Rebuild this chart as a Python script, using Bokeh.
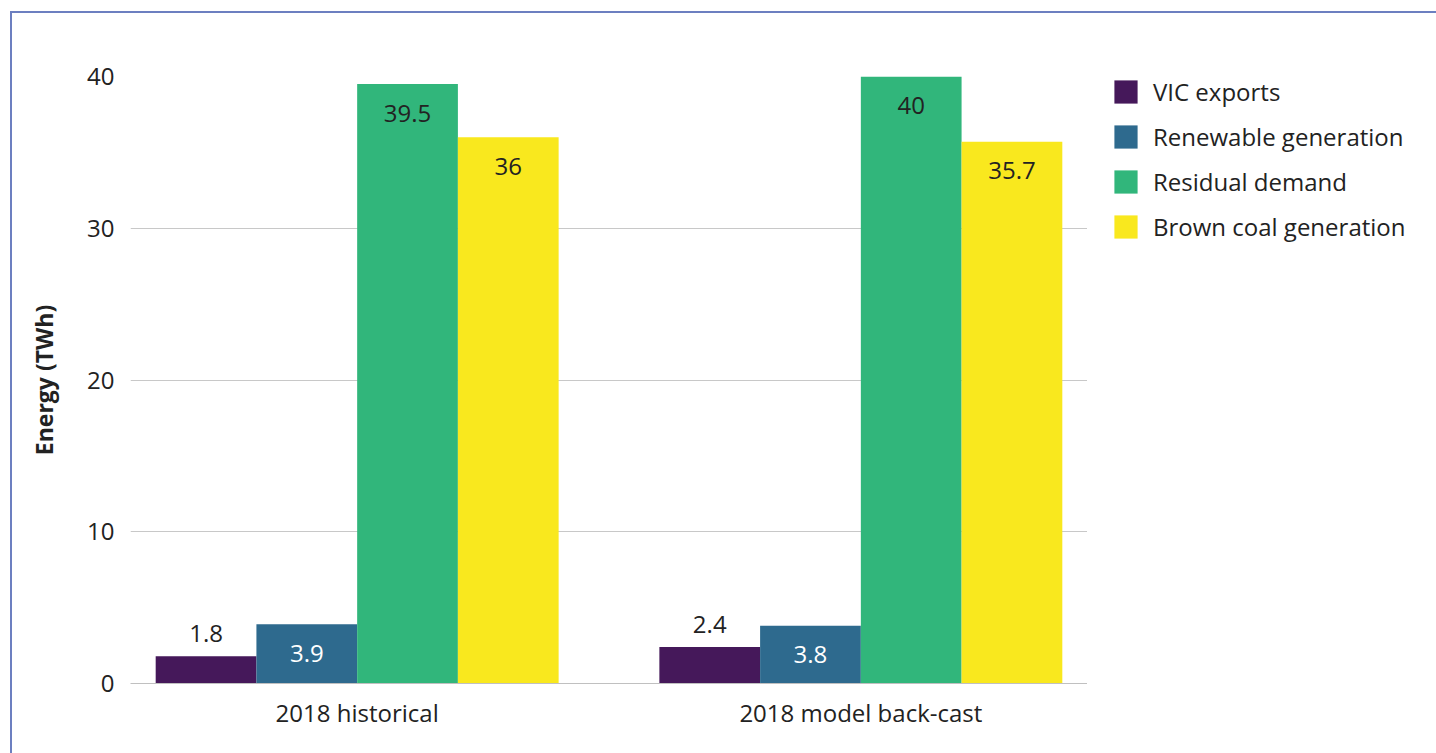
from bokeh.plotting import figure
from bokeh.layouts import row
from bokeh.models import (ColumnDataSource, Range1d, LabelSet, Legend, LegendItem,
                          FixedTicker, FactorRange)
from bokeh.transform import dodge
from bokeh.core.properties import value
from bokeh.embed import file_html
from bokeh.resources import INLINE

categories = ["2018 historical", "2018 model back-cast"]
series_names = ["VIC exports", "Renewable generation", "Residual demand", "Brown coal generation"]
vic_exports = [1.8, 2.4]
renewable_generation = [3.9, 3.8]
residual_demand = [39.5, 40.0]
brown_coal_generation = [36.0, 35.7]
y_ticks = [0, 10, 20, 30, 40]

series_values = [vic_exports, renewable_generation, residual_demand, brown_coal_generation]
colors = ["#45185a", "#2e6a8e", "#31b67b", "#f9e81e"]
label_colors = ["#222222", "#ffffff", "#222222", "#222222"]
offsets = [-0.3, -0.1, 0.1, 0.3]
FONT = "Open Sans"
FS = "24px"
TEXT = "#222222"

x_range = FactorRange(factors=categories, range_padding=-0.05, range_padding_units="absolute")
p = figure(x_range=x_range, y_range=Range1d(0, 40), width=1075, height=740,
           output_backend="svg", toolbar_location=None,
           min_border_left=118, min_border_right=0, min_border_top=63, min_border_bottom=70)
p.outline_line_color = None
p.background_fill_color = "white"
p.border_fill_color = "white"

src = ColumnDataSource(dict(cat=categories,
                            **{f"s{i}": v for i, v in enumerate(series_values)}))

for i, name in enumerate(series_names):
    p.vbar(x=dodge("cat", offsets[i], range=p.x_range), top=f"s{i}", width=0.2,
           source=src, fill_color=colors[i], line_color=None)
    vals = series_values[i]
    above = [v < 3 for v in vals]
    for j, cat in enumerate(categories):
        s = ColumnDataSource(dict(x=[cat], y=[vals[j]], t=["%g" % vals[j]]))
        lab = LabelSet(x=dodge("x", offsets[i], range=p.x_range), y="y", text="t", source=s,
                       y_offset=(23 if above[j] else -29),
                       text_align="center", text_baseline="middle",
                       text_font=value(FONT), text_font_size=FS,
                       text_color=(TEXT if above[j] else label_colors[i]))
        p.add_layout(lab)

p.yaxis.ticker = FixedTicker(ticks=y_ticks)
p.ygrid.grid_line_color = "#c8c8c8"
p.xgrid.grid_line_color = None
p.yaxis.axis_line_color = None
p.yaxis.major_tick_line_color = None
p.yaxis.minor_tick_line_color = None
p.yaxis.major_label_standoff = 10
p.yaxis.major_label_text_font = FONT
p.yaxis.major_label_text_font_size = FS
p.yaxis.major_label_text_color = TEXT
p.yaxis.axis_label = "Energy (TWh)"
p.yaxis.axis_label_text_font = FONT
p.yaxis.axis_label_text_font_size = "23px"
p.yaxis.axis_label_text_font_style = "bold"
p.yaxis.axis_label_text_color = TEXT
p.yaxis.axis_label_standoff = 24

p.xaxis.axis_line_color = "#c0c0c0"
p.xaxis.major_tick_line_color = None
p.xaxis.minor_tick_line_color = None
p.xaxis.major_label_standoff = 6
p.xaxis.major_label_text_font = FONT
p.xaxis.major_label_text_font_size = FS
p.xaxis.major_label_text_color = TEXT

# legend panel (its renderers are hidden; only the legend shows)
q = figure(width=349, height=740, output_backend="svg", toolbar_location=None,
           x_range=FactorRange(factors=categories), y_range=Range1d(0, 40),
           x_axis_type=None, y_axis_type=None,
           min_border_left=0, min_border_right=0, min_border_top=0, min_border_bottom=0)
q.outline_line_color = None
q.xgrid.grid_line_color = None
q.ygrid.grid_line_color = None
items = []
for i, name in enumerate(series_names):
    r = q.vbar(x="cat", top=f"s{i}", width=0.2, source=src,
               fill_color=colors[i], line_color=None, visible=False)
    items.append(LegendItem(label=name, renderers=[r]))
legend = Legend(items=items, location=(24, 440), orientation="vertical",
                glyph_width=29, glyph_height=29, spacing=12, label_standoff=13,
                label_text_font=FONT, label_text_font_size=FS, label_text_color=TEXT,
                label_height=29, padding=0, margin=0,
                inactive_fill_alpha=0,
                border_line_color=None, background_fill_alpha=0)
q.add_layout(legend)

layout = row(p, q, spacing=0)
layout.margin = (11, 0, 0, 10)
layout.styles = {"border-top": "2px solid #6c7fc0", "border-left": "2px solid #6c7fc0"}

open("out.html", "w").write(file_html(layout, INLINE))
